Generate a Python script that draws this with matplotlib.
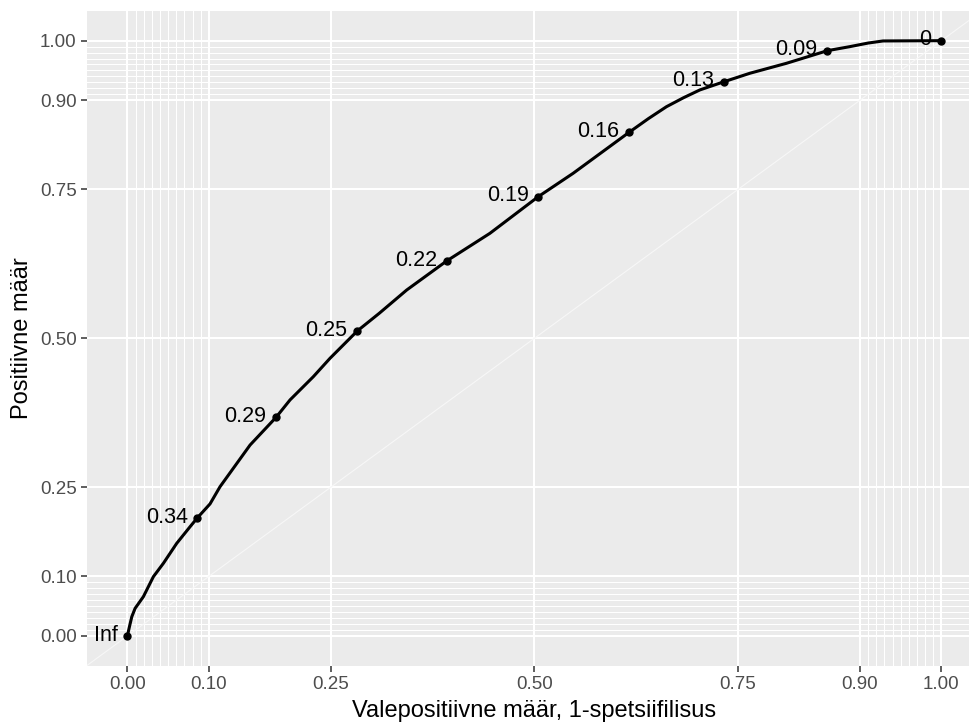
import matplotlib
matplotlib.use('Agg')
import matplotlib.pyplot as plt

plt.rcParams['font.family'] = ['Liberation Sans', 'DejaVu Sans']

# ROC curve
fpr = [0, 0.0025, 0.0054, 0.0095, 0.0196, 0.0319, 0.0442, 0.0606, 0.0770, 0.0861,
       0.1015, 0.1138, 0.1507, 0.1826, 0.1998, 0.2284, 0.2489, 0.2824, 0.3094,
       0.3431, 0.3922, 0.4454, 0.5047, 0.5476, 0.6164, 0.6400, 0.6623, 0.6830,
       0.7032, 0.7331, 0.7646, 0.8097, 0.8600, 0.8873, 0.9100, 0.9283, 1.0]
tpr = [0, 0.0155, 0.0323, 0.0464, 0.0659, 0.0995, 0.1220, 0.1556, 0.1835, 0.1986,
       0.2218, 0.2507, 0.3207, 0.3672, 0.3965, 0.4355, 0.4664, 0.5123, 0.5420,
       0.5811, 0.6299, 0.6764, 0.7379, 0.7772, 0.8461, 0.8690, 0.8891, 0.9040,
       0.9172, 0.9311, 0.9452, 0.9620, 0.9832, 0.9899, 0.9960, 0.9995, 1.0]

# labelled cutoffs
cut_labels = ['Inf', '0.34', '0.29', '0.25', '0.22', '0.19', '0.16', '0.13', '0.09', '0']
cut_fpr = [0, 0.0861, 0.1826, 0.2824, 0.3922, 0.5047, 0.6164, 0.7331, 0.8600, 1.0]
cut_tpr = [0, 0.1986, 0.3672, 0.5123, 0.6299, 0.7379, 0.8461, 0.9311, 0.9832, 1.0]

major = [0, 0.1, 0.25, 0.5, 0.75, 0.9, 1]
minor = [i / 100 for i in range(1, 10)] + [i / 100 for i in range(91, 100)]

fig = plt.figure(figsize=(9.69, 7.24), dpi=100)
ax = fig.add_axes([86.7 / 969, (724 - 665.7) / 724, (982.1 - 86.7) / 969, (665.7 - 10.9) / 724])
ax.set_facecolor('#EBEBEB')
for s in ax.spines.values():
    s.set_visible(False)

ax.set_xlim(-0.05, 1.05)
ax.set_ylim(-0.05, 1.05)
ax.set_xticks(major)
ax.set_yticks(major)
ax.set_xticks(minor, minor=True)
ax.set_yticks(minor, minor=True)
ax.set_xticklabels(['%.2f' % v for v in major])
ax.set_yticklabels(['%.2f' % v for v in major])

ax.grid(which='major', color='white', linewidth=1.5)
ax.grid(which='minor', color='white', linewidth=0.75)
ax.set_axisbelow(True)
ax.tick_params(which='minor', length=0)
ax.tick_params(which='major', length=4.3, width=1.1, color='#333333',
               labelcolor='#4D4D4D', labelsize=13.5, pad=3)

# diagonal reference line
ax.plot([-0.05, 1.05], [-0.05, 1.05], color='#F7F7F7', linewidth=0.8, zorder=1)

ax.plot(fpr, tpr, color='black', linewidth=2.2, zorder=3)
ax.plot(cut_fpr, cut_tpr, 'o', color='black', markersize=5, zorder=4)
for lab, x, y in zip(cut_labels, cut_fpr, cut_tpr):
    ax.annotate(lab, (x, y), xytext=(-7, 0.5), textcoords='offset points',
                ha='right', va='center', fontsize=15.5, color='black', zorder=5)

ax.set_xlabel('Valepositiivne määr, 1-spetsiifilisus', fontsize=17, labelpad=5)
ax.set_ylabel('Positiivne määr', fontsize=17, labelpad=5)

fig.savefig('out.png', dpi=100)
